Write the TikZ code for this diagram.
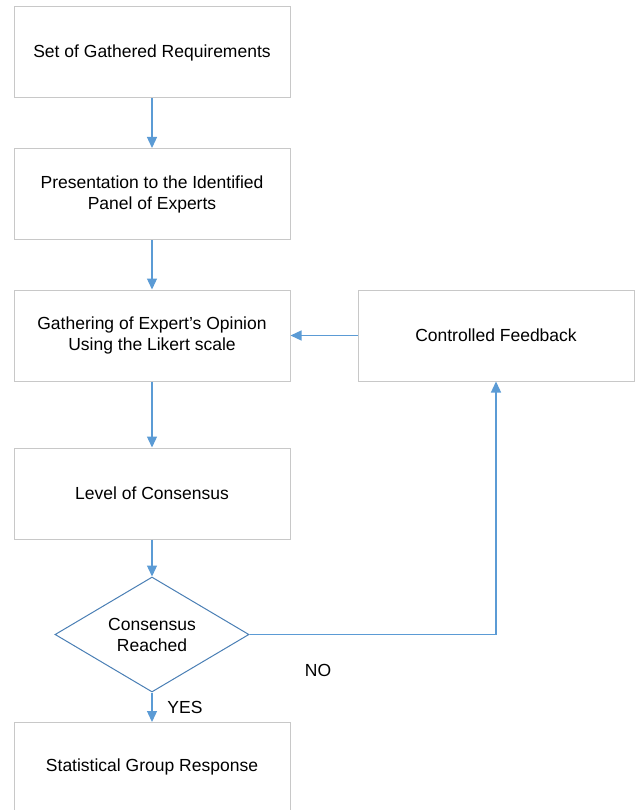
\documentclass[tikz,border=0pt]{standalone}
\usepackage{fontspec}
\setmainfont{Liberation Sans}
\usetikzlibrary{shapes.geometric,arrows.meta}
\definecolor{boxgray}{HTML}{C8C8C8}
\definecolor{arrowblue}{HTML}{5B9BD5}
\definecolor{diablue}{HTML}{4A7FB5}
\tikzset{
  stepbox/.style={draw=boxgray, line width=1pt, fill=white, minimum width=276pt, minimum height=91pt, inner sep=0pt, align=center, font=\fontsize{17.5}{21}\selectfont},
  decide/.style={diamond, draw=diablue, line width=1pt, fill=white, minimum width=194pt, minimum height=115pt, aspect=1.69, inner sep=0pt, align=center, font=\fontsize{17.5}{21}\selectfont},
  flow/.style={draw=arrowblue, line width=1.3pt, -{Triangle[length=11pt,width=10pt]}},
  lbl/.style={font=\fontsize{17.5}{21}\selectfont, inner sep=0pt}
}
\begin{document}
\begin{tikzpicture}[x=1pt,y=1pt]
\useasboundingbox (0,0) rectangle (636,-810);
\clip (0,0) rectangle (636,-810);
\node[stepbox] (b1) at (152,-52.5) {Set of Gathered Requirements};
\node[stepbox] (b2) at (152,-194) {Presentation to the Identified\\Panel of Experts};
\node[stepbox] (b3) at (152,-335.5) {Gathering of Expert’s Opinion\\Using the Likert scale};
\node[stepbox] (cf) at (496,-335.5) {Controlled Feedback};
\node[stepbox] (b4) at (152,-493.5) {Level of Consensus};
\node[decide] (d) at (152,-634.5) {Consensus\\Reached};
\node[stepbox, minimum height=120pt, anchor=north, text height=0pt] (b5) at (152,-722) {};
\node[lbl] (b5t) at (152,-767) {Statistical Group Response};
\draw[flow] (b1) -- (b2);
\draw[flow] (b2) -- (b3);
\draw[flow] (b3) -- (b4);
\draw[flow] (b4) -- (d);
\draw[flow] (cf) -- (b3);
\draw[flow] (d.east) -| (cf.south);
\draw[flow] (d.south) -- (b5.north);
\node[lbl] (yes) at (185,-707) {YES};
\node[lbl] (no) at (318,-670) {NO};
\end{tikzpicture}
\end{document}
